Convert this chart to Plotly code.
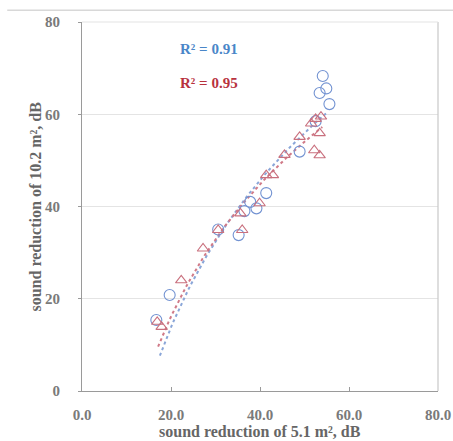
import numpy as np
import plotly.graph_objects as go

# Data
blue_x = [16.7, 19.7, 35.2, 36.5, 39.2, 41.4, 48.9, 54.1, 54.9, 53.4, 55.6, 30.6, 37.8, 52.5]
blue_y = [15.4, 20.8, 33.8, 39.0, 39.6, 42.9, 51.9, 68.3, 65.6, 64.6, 62.2, 35.0, 41.0, 58.5]

red_x = [16.9, 17.9, 22.3, 27.2, 30.6, 36.0, 35.6, 39.9, 41.4, 42.9, 45.5, 48.9, 51.5, 52.5, 53.7, 53.4, 52.2, 53.4]
red_y = [15.0, 13.9, 24.0, 30.9, 34.9, 34.9, 38.5, 40.7, 46.8, 46.8, 51.2, 55.1, 58.0, 59.0, 59.5, 55.9, 52.2, 51.1]

# Logarithmic trend lines y = a*ln(x) + b
blue_fit = {"a": 46.0, "b": -124.0, "x0": 17.5, "x1": 55.0}
red_fit = {"a": 41.4, "b": -107.9, "x0": 17.1, "x1": 54.0}

x_ticks = [0, 20, 40, 60, 80]
x_tick_labels = ["0.0", "20.0", "40.0", "60.0", "80.0"]
y_ticks = [0, 20, 40, 60, 80]
y_tick_labels = ["0", "20", "40", "60", "80"]

BLUE = "#4a86c8"
RED = "#b8323e"
FONT = "Liberation Serif"

fig = go.Figure()


def curve(f):
    xs = np.linspace(f["x0"], f["x1"], 60)
    ys = f["a"] * np.log(xs) + f["b"]
    return xs, ys


bx, by = curve(blue_fit)
rx, ry = curve(red_fit)
fig.add_trace(go.Scatter(x=bx, y=by, mode="lines",
                         line=dict(color="#8aa6d8", width=2, dash="dot"), showlegend=False))
fig.add_trace(go.Scatter(x=rx, y=ry, mode="lines",
                         line=dict(color="#d07a88", width=2, dash="dot"), showlegend=False))
fig.add_trace(go.Scatter(x=blue_x, y=blue_y, mode="markers",
                         marker=dict(symbol="circle-open", size=11, color="#7393d2",
                                     line=dict(width=1.1)), showlegend=False))
fig.add_trace(go.Scatter(x=red_x, y=red_y, mode="markers",
                         marker=dict(symbol="triangle-up-open", size=10, color="#c9707e",
                                     line=dict(width=1.1)), showlegend=False))

fig.add_annotation(xref="paper", yref="paper", x=0.357, y=0.928,
                   xanchor="center", yanchor="middle",
                   text="<b>R² = 0.91</b>", showarrow=False,
                   font=dict(family=FONT, size=15, color=BLUE))
fig.add_annotation(xref="paper", yref="paper", x=0.357, y=0.836,
                   xanchor="center", yanchor="middle",
                   text="<b>R² = 0.95</b>", showarrow=False,
                   font=dict(family=FONT, size=15, color=RED))

# axis titles
fig.add_annotation(xref="paper", yref="paper", x=0.5, y=-0.111,
                   xanchor="center", yanchor="middle",
                   text="<b>sound reduction of 5.1 m², dB</b>", showarrow=False,
                   font=dict(family=FONT, size=16, color="#666666"))
fig.add_annotation(xref="paper", yref="paper", x=-0.132, y=0.5, textangle=-90,
                   xanchor="center", yanchor="middle",
                   text="<b>sound reduction of 10.2 m², dB</b>", showarrow=False,
                   font=dict(family=FONT, size=16, color="#666666"))

fig.add_shape(type="line", xref="paper", yref="paper", x0=-0.21, x1=1.05,
              y0=1.032, y1=1.032, line=dict(color="#d8d8d8", width=1.5))

fig.update_layout(
    width=453, height=441,
    margin=dict(l=82, r=15, t=22, b=50),
    paper_bgcolor="white", plot_bgcolor="white",
    font=dict(family=FONT, color="#666666"),
    xaxis=dict(range=[0, 80], tickvals=x_ticks,
               ticktext=["<b>" + t + "</b>" for t in x_tick_labels], automargin=False,
               showgrid=False, zeroline=False, showline=True, linecolor="#9a9a9a",
               linewidth=1.2, mirror=False, ticks="inside", ticklen=4, tickcolor="#9a9a9a",
               ticklabelstandoff=10,
               tickfont=dict(family=FONT, size=15, color="#7a7a7a")),
    yaxis=dict(range=[0, 80], tickvals=y_ticks,
               ticktext=["<b>" + t + "</b>" for t in y_tick_labels], automargin=False,
               showgrid=True, gridcolor="#e4e4e4", gridwidth=1.2, zeroline=False,
               showline=True, linecolor="#9a9a9a", linewidth=1.2,
               ticks="outside", ticklen=3, tickcolor="#9a9a9a",
               ticklabelstandoff=15,
               tickfont=dict(family=FONT, size=15, color="#7a7a7a")),
)

# right and top borders of plot area
fig.add_shape(type="line", xref="paper", yref="paper", x0=1, x1=1, y0=0, y1=1,
              line=dict(color="#c8c8c8", width=1.2))
fig.add_shape(type="line", xref="paper", yref="paper", x0=0, x1=1, y0=1, y1=1,
              line=dict(color="#e4e4e4", width=1.2))

fig.write_html("out.html")
